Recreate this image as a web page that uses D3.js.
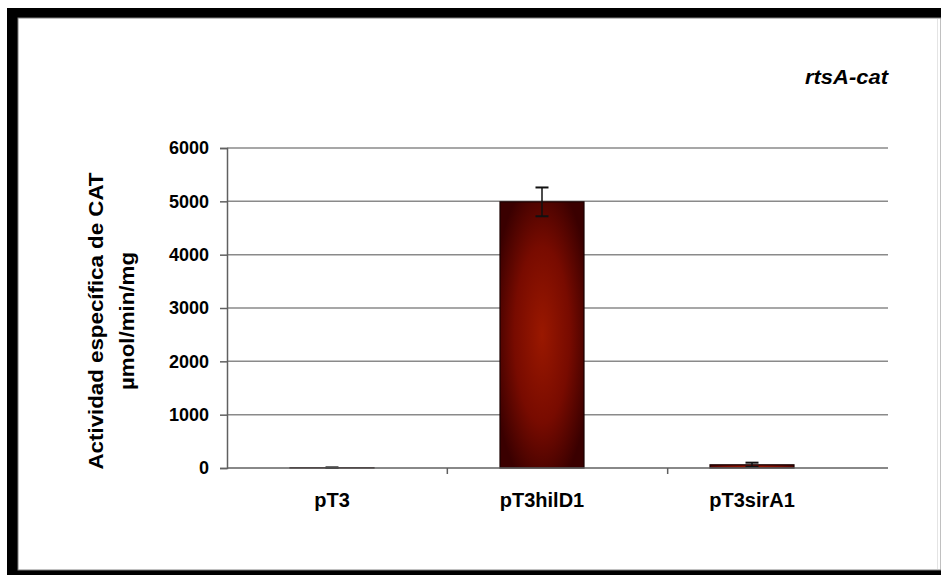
<!DOCTYPE html>
<html>
<head>
<meta charset="utf-8">
<script src="https://cdn.jsdelivr.net/npm/d3@7"></script>
<style>
  html, body { margin: 0; padding: 0; background: #fff; }
  svg { display: block; }
</style>
</head>
<body>
<script>
// Specific CAT activity for the rtsA-cat fusion in each plasmid background
const categories = ["pT3", "pT3hilD1", "pT3sirA1"];
const activity = [6, 4990, 60];
const activityErr = [5, 270, 40];
const yTicks = [0, 1000, 2000, 3000, 4000, 5000, 6000];

const W = 941, H = 575;
const FONT = "'Liberation Sans', Arial, sans-serif";
const svg = d3.select("body").append("svg").attr("width", W).attr("height", H);

// Gradient fill for the bars
const defs = svg.append("defs");
const grad = defs.append("radialGradient").attr("id", "barFill")
  .attr("cx", "50%").attr("cy", "50%").attr("r", "60%");
grad.append("stop").attr("offset", "0%").attr("stop-color", "#9a1800");
grad.append("stop").attr("offset", "55%").attr("stop-color", "#780b00");
grad.append("stop").attr("offset", "100%").attr("stop-color", "#3a0000");

// Frame
svg.append("rect").attr("x", 7).attr("y", 8).attr("width", W - 7).attr("height", H - 8).attr("fill", "#000");
svg.append("rect").attr("x", 18).attr("y", 18).attr("width", W - 18).attr("height", 552)
  .attr("fill", "#fff").attr("stroke", "#808080").attr("stroke-width", 1);
svg.append("line").attr("x1", 937.5).attr("x2", 937.5).attr("y1", 19).attr("y2", 569)
  .attr("stroke", "#e4e4e4").attr("stroke-width", 1);

// Plot area: bars sit on a 210px category pitch, gridlines run a little further right
const x0 = 227, x1 = 857, xEnd = 888, yTop = 148, yBot = 468;
const x = d3.scaleBand().domain(categories).range([x0, x1]).paddingInner(0).paddingOuter(0);
const y = d3.scaleLinear().domain([0, 6000]).range([yBot, yTop]);

const g = svg.append("g");

// Horizontal gridlines
g.selectAll(".grid").data(yTicks.filter(d => d > 0)).enter().append("line")
  .attr("x1", x0).attr("x2", xEnd)
  .attr("y1", d => y(d)).attr("y2", d => y(d))
  .attr("stroke", "#8a8a8a").attr("stroke-width", 1.5);

// Y axis
const yAxis = d3.axisLeft(y).tickValues(yTicks).tickSize(7).tickPadding(11).tickFormat(d3.format("d"));
const ya = svg.append("g").attr("transform", `translate(${x0},0)`).call(yAxis);
ya.select(".domain").attr("stroke", "#606060").attr("stroke-width", 1.5);
ya.selectAll(".tick line").attr("stroke", "#606060").attr("stroke-width", 1.5);
ya.selectAll(".tick text")
  .attr("font-family", FONT)
  .attr("font-size", 18).attr("font-weight", "bold").attr("fill", "#000");

// Bars
const bw = x.bandwidth() / 2.5;
g.selectAll(".bar").data(categories).enter().append("rect")
  .attr("x", d => x(d) + (x.bandwidth() - bw) / 2)
  .attr("y", (d, i) => y(activity[i]))
  .attr("width", bw)
  .attr("height", (d, i) => yBot - y(activity[i]))
  .attr("fill", "url(#barFill)")
  .attr("stroke", "#1a0000").attr("stroke-width", 1.2);

// Error bars
const cap = 13;
categories.forEach((c, i) => {
  const cx = x(c) + x.bandwidth() / 2;
  const lo = y(Math.max(0, activity[i] - activityErr[i]));
  const hi = y(activity[i] + activityErr[i]);
  g.append("line").attr("x1", cx).attr("x2", cx).attr("y1", lo).attr("y2", hi)
    .attr("stroke", "#111").attr("stroke-width", 1.5);
  g.append("line").attr("x1", cx - cap / 2).attr("x2", cx + cap / 2).attr("y1", hi).attr("y2", hi)
    .attr("stroke", "#111").attr("stroke-width", 2);
  g.append("line").attr("x1", cx - cap / 2).attr("x2", cx + cap / 2).attr("y1", lo).attr("y2", lo)
    .attr("stroke", "#111").attr("stroke-width", 2);
});

// X axis
const xAxis = d3.axisBottom(x).tickSize(0).tickPadding(25);
const xa = svg.append("g").attr("transform", `translate(0,${yBot})`).call(xAxis);
xa.select(".domain").remove();
xa.append("line").attr("x1", x0).attr("x2", xEnd).attr("y1", 0).attr("y2", 0)
  .attr("stroke", "#606060").attr("stroke-width", 1.5);
xa.selectAll(".tick text")
  .attr("font-family", FONT)
  .attr("font-size", 20).attr("font-weight", "bold").attr("fill", "#000");
// category separators
const sepScale = d3.scaleLinear().domain([0, categories.length]).range([x0, xEnd]);
xa.selectAll(".sep").data(d3.range(1, categories.length)).enter().append("line")
  .attr("x1", i => sepScale(i)).attr("x2", i => sepScale(i))
  .attr("y1", 0).attr("y2", 6)
  .attr("stroke", "#606060").attr("stroke-width", 1.5);

// Y axis title
const yt = svg.append("text")
  .attr("transform", "translate(112,321) rotate(-90)")
  .attr("text-anchor", "middle")
  .attr("font-family", FONT)
  .attr("font-size", 21).attr("font-weight", "bold").attr("fill", "#000");
yt.append("tspan").attr("x", 0).attr("dy", "-0.45em")
  .attr("textLength", 297).attr("lengthAdjust", "spacingAndGlyphs")
  .text("Actividad específica de CAT");
yt.append("tspan").attr("x", 0).attr("dy", "1.5em")
  .attr("textLength", 138).attr("lengthAdjust", "spacingAndGlyphs")
  .text("µmol/min/mg");

// Chart title
svg.append("text").attr("x", 805).attr("y", 84)
  .attr("textLength", 83).attr("lengthAdjust", "spacingAndGlyphs")
  .attr("font-family", FONT)
  .attr("font-size", 20).attr("font-weight", "bold").attr("font-style", "italic")
  .attr("fill", "#000").text("rtsA-cat");
</script>
</body>
</html>
